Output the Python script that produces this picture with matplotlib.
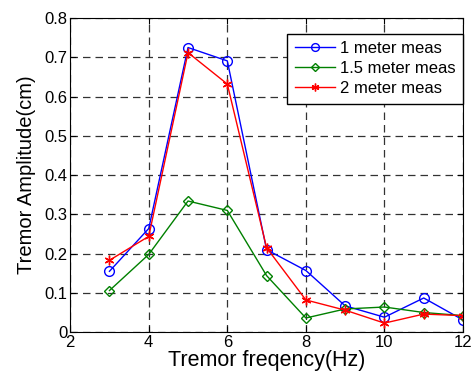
import numpy as np
import matplotlib.pyplot as plt

plt.rcParams['font.family'] = ['Liberation Sans', 'DejaVu Sans']

freq = [3, 4, 5, 6, 7, 8, 9, 10, 11, 12]
amp_1m = [0.155, 0.264, 0.725, 0.691, 0.210, 0.157, 0.067, 0.038, 0.087, 0.031]
amp_15m = [0.106, 0.198, 0.334, 0.310, 0.144, 0.036, 0.059, 0.064, 0.050, 0.042]
amp_2m = [0.183, 0.244, 0.712, 0.632, 0.215, 0.082, 0.056, 0.023, 0.046, 0.042]

fig = plt.figure(figsize=(4.71, 3.77), dpi=100)
ax = fig.add_axes([0.149, 0.119, 0.834, 0.833])

ax.plot(freq, amp_1m, color='blue', marker='o', markersize=7, markerfacecolor='none',
        linewidth=1, label='1 meter meas')
ax.plot(freq, amp_15m, color='green', marker='D', markersize=5, markerfacecolor='none',
        linewidth=1, label='1.5 meter meas')
ax.plot(freq, amp_2m, color='red', marker=(6, 2, 0), markersize=7,
        linewidth=1, label='2 meter meas')

ax.set_xlim(2, 12)
ax.set_ylim(0, 0.8)
ax.set_xticks([2, 4, 6, 8, 10, 12])
ax.set_yticks(np.arange(0, 0.81, 0.1))
ax.set_yticklabels(['0', '0.1', '0.2', '0.3', '0.4', '0.5', '0.6', '0.7', '0.8'])
ax.tick_params(direction='in', top=True, right=True, labelsize=12, length=4, pad=2)
ax.grid(True, color='#333333', linestyle=(0, (6, 4)), linewidth=0.9)

ax.set_xlabel('Tremor freqency(Hz)', fontsize=15.5, labelpad=0)
ax.set_ylabel('Tremor Amplitude(cm)', fontsize=14.5, labelpad=6)

leg = ax.legend(loc='upper right', bbox_to_anchor=(1.0, 0.95), borderaxespad=0,
                fontsize=12, fancybox=False, edgecolor='black', framealpha=1,
                handlelength=2.4, handletextpad=0.3, labelspacing=0.3, borderpad=0.45,
                markerscale=0.8)
leg.get_frame().set_linewidth(1)

fig.savefig('out.png', dpi=100)
